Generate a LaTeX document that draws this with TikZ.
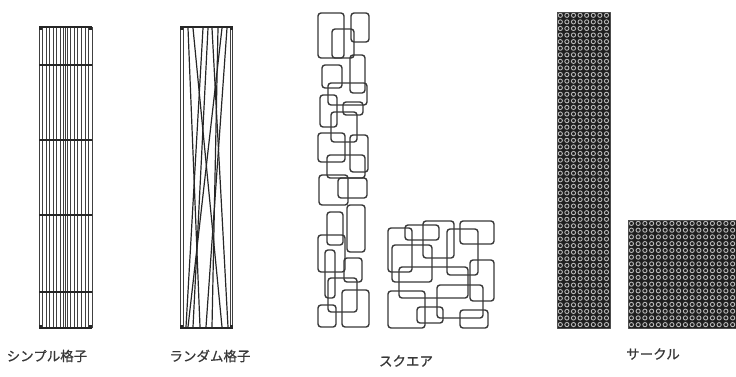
\documentclass[tikz,border=0pt]{standalone}
\usepackage{fontspec}
\newfontfamily\jp[FakeBold=0.6]{Noto Sans CJK JP}
\begin{document}
\begin{tikzpicture}[x=1pt,y=-1pt,line join=round,
  thinline/.style={black!75,line width=0.75},
  crossbar/.style={black!85,line width=1.3},
  bar/.style={black!85,line width=2},
  sideline/.style={black!75,line width=0.9},
  diag/.style={black!85,line width=1.2},
  sq/.style={draw=black!78,line width=1.4,rounded corners=3pt},
  ring/.style={draw=white!72!black,line width=0.9},
  lbl/.style={font=\jp\fontsize{13.5}{15}\selectfont,text=black!78,inner sep=0pt}]
\useasboundingbox (0,0) rectangle (736,376);

% ---- simple lattice ----
\foreach \k in {0,...,15} \draw[thinline] ({39+\k*53/15},27) -- ({39+\k*53/15},328);
\draw[sideline] (39,27) -- (39,328) (92,27) -- (92,328) (65.5,27) -- (65.5,328);
\foreach \yy in {65,140,215,292} \draw[crossbar] (39,\yy) -- (92,\yy);
\draw[bar] (39,27) -- (92,27) (39,328) -- (92,328);
\foreach \cx/\cy in {39/27,89/27,39/325,89/325} \fill[black!85] (\cx,\cy) rectangle +(3,3);

% ---- random lattice ----
\draw[sideline] (180.5,27) -- (180.5,328) (183,27) -- (183,328)
  (230,27) -- (230,328) (232.5,27) -- (232.5,328);
\foreach \ta/\tb in {188/200,193/222,203/186,212/228,208/193,218/212,222/188,227/206}
  \draw[diag] (\ta,28) -- (\tb,327);
\draw[bar] (180,27) -- (233,27) (180,328) -- (233,328);
\foreach \cx/\cy in {180/27,230/27,180/325,230/325} \fill[black!85] (\cx,\cy) rectangle +(3,3);

% ---- square pattern, tall ----
\foreach \a/\b/\c/\d in {318/13/344/58, 351/13/369/42, 332/29/354/58, 322/65/342/88,
  350/55/365/93, 328/83/367/105, 320/95/337/127, 343/102/363/115, 331/112/357/142,
  318/133/345/162, 350/135/368/172, 327/155/365/178, 319/175/348/205, 338/178/367/198,
  327/212/343/245, 347/205/365/252, 318/235/345/272, 325/250/335/298, 344/258/362/282,
  328/278/357/312, 318/305/336/327, 342/290/369/327}
  \draw[sq] (\a,\b) rectangle (\c,\d);

% ---- square pattern, square ----
\foreach \a/\b/\c/\d in {388/228/412/272, 405/225/439/240, 423/221/454/258, 460/221/494/244,
  447/229/478/275, 392/245/432/282, 399/267/468/298, 470/260/494/301, 388/291/425/328,
  417/307/443/323, 437/285/483/318, 460/310/488/328}
  \draw[sq] (\a,\b) rectangle (\c,\d);

% ---- circle pattern, tall ----
\fill[black!88] (557,12) rectangle (610,328);
\foreach \i in {0,...,7} \foreach \j in {0,...,47}
  \draw[ring] ({560.3+\i*6.6},{15.3+\j*6.58}) circle (2.1);
\draw[black!70,line width=0.8] (557,12) rectangle (610,328);

% ---- circle pattern, square ----
\fill[black!88] (628,220) rectangle (736,328);
\foreach \i in {0,...,16} \foreach \j in {0,...,15}
  \draw[ring] ({631.4+\i*6.75},{223.4+\j*6.75}) circle (2.1);
\draw[black!70,line width=0.8] (628,220) -- (628,328) -- (736,328) (628,220) -- (736,220);

% ---- labels ----
\node[lbl] (l1) at (47,356) {シンプル格子};
\node[lbl] (l2) at (210,356) {ランダム格子};
\node[lbl] (l3) at (406,361) {スクエア};
\node[lbl] (l4) at (653,354) {サークル};
\end{tikzpicture}
\end{document}
